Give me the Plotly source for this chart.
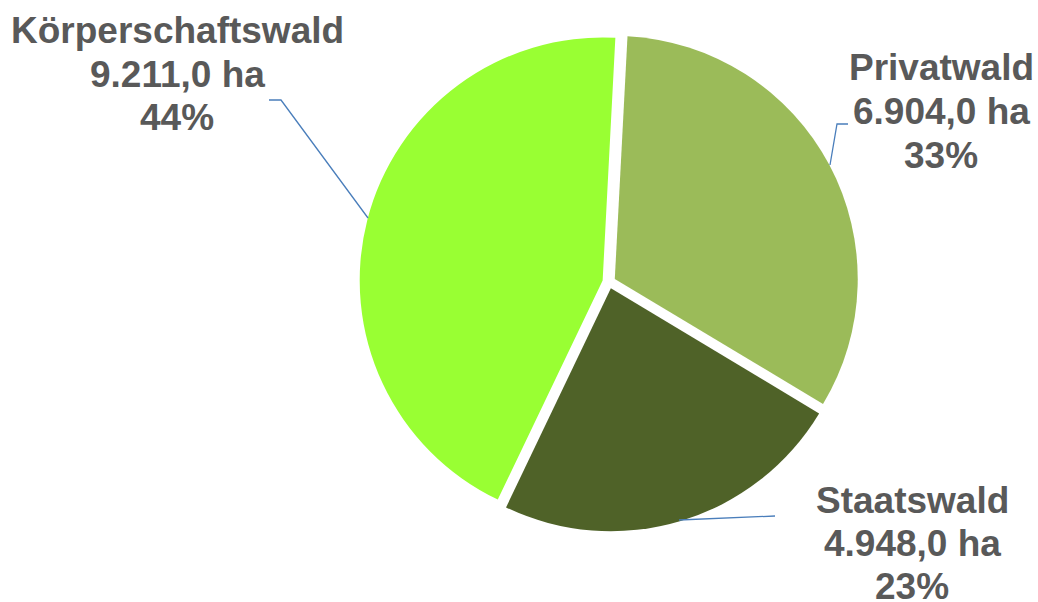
import plotly.graph_objects as go

# Data
categories = ["Privatwald", "Staatswald", "Körperschaftswald"]
areas_ha = [6904.0, 4948.0, 9211.0]
colors = ["#9BBB59", "#4F6228", "#99FF33"]

W, H = 1038, 602
total = sum(areas_ha)


def de_num(v):
    s = f"{v:,.1f}"
    return s.replace(",", "X").replace(".", ",").replace("X", ".")


fig = go.Figure(
    go.Pie(
        labels=categories,
        values=areas_ha,
        sort=False,
        direction="clockwise",
        rotation=3,
        pull=[0.027, 0.027, 0.027],
        marker=dict(colors=colors, line=dict(width=0)),
        textinfo="none",
        hoverinfo="label+value+percent",
        showlegend=False,
        domain=dict(x=[359.5 / W, 858.5 / W], y=[70.5 / H, 569.5 / H]),
    )
)


def px(x, y):
    return x / W, 1 - y / H


# label placement (pixel centres) per category
label_pos = {
    "Körperschaftswald": (177, [31, 75, 117]),
    "Privatwald": (941, [68, 111, 155]),
    "Staatswald": (912, [500, 543, 586]),
}
annotations = []
for cat, val in zip(categories, areas_ha):
    cx, ys = label_pos[cat]
    lines = [cat, de_num(val) + " ha", f"{round(val / total * 100):d}%"]
    for t, yy in zip(lines, ys):
        x, y = px(cx, yy)
        annotations.append(
            dict(
                x=x, y=y, xref="paper", yref="paper",
                text=f"<b>{t}</b>", showarrow=False,
                xanchor="center", yanchor="middle",
                font=dict(family="Liberation Sans, Arial", size=37, color="#595959"),
            )
        )

# leader lines
leaders = [
    [(269, 100), (281, 100), (368, 218)],
    [(848, 124), (837, 124), (830, 165)],
    [(775, 516), (679, 520)],
]
shapes = []
for pts in leaders:
    p = [px(a, b) for a, b in pts]
    path = "M " + " L ".join(f"{a},{b}" for a, b in p)
    shapes.append(
        dict(type="path", path=path, xref="paper", yref="paper",
             line=dict(color="#4A7EBB", width=1.3))
    )

fig.update_layout(
    width=W, height=H,
    margin=dict(l=0, r=0, t=0, b=0),
    paper_bgcolor="white", plot_bgcolor="white",
    annotations=annotations, shapes=shapes,
)

fig.write_html("out.html")
